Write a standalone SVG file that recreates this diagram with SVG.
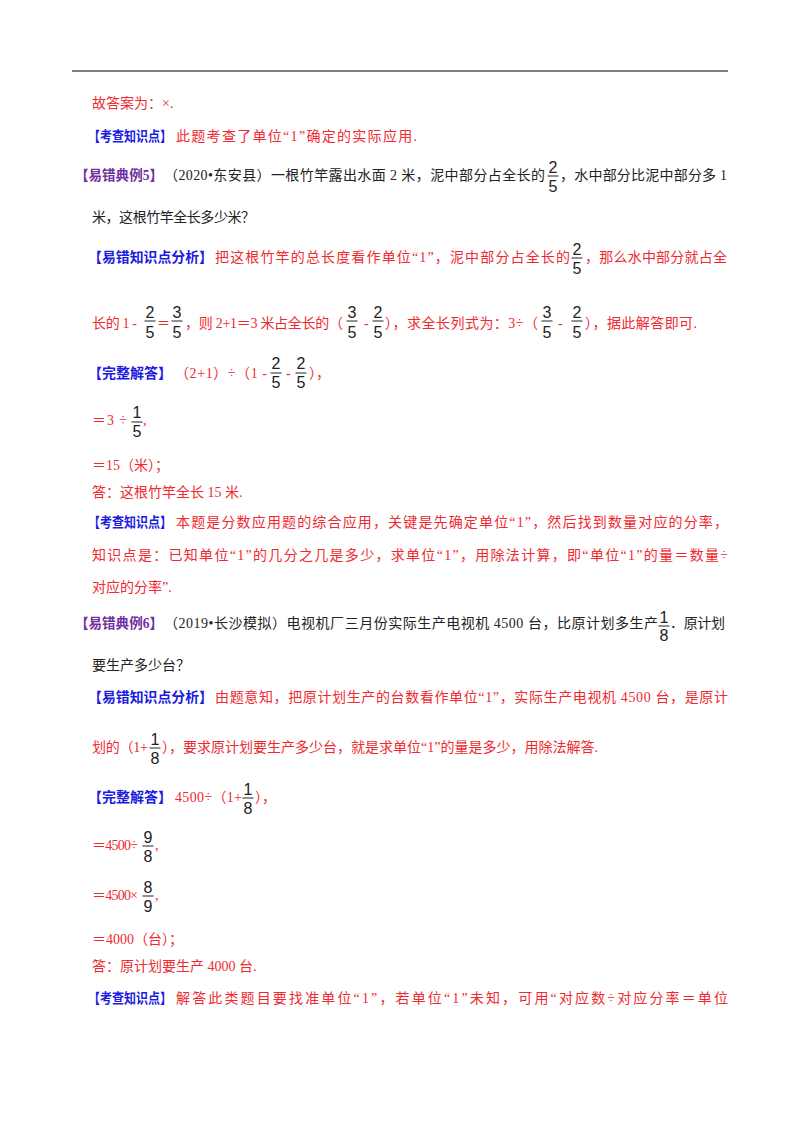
<svg xmlns="http://www.w3.org/2000/svg" width="800" height="1132" viewBox="0 0 800 1132">
<style>
text{font-family:"Liberation Serif","Noto Sans CJK SC",serif;font-size:14px}
.r{fill:#ee2a30}.k{fill:#222}.b{fill:#1c1ce0;font-weight:bold}.p{fill:#7030a0;font-weight:bold}
.f{font-family:"Liberation Sans",Arial,sans-serif;font-size:16px;text-anchor:middle;fill:#222}
.fr line{stroke:#222;stroke-width:1.1}
</style>
<defs>
<line id="bar" x1="-5.5" y1="0" x2="5.5" y2="0"/>
</defs>
<rect width="800" height="1132" fill="#fff"/>
<line x1="72" y1="71" x2="728" y2="71" stroke="#000" stroke-width="1.2"/>

<text x="92" y="108" class="r">故答案为：×.</text>
<text x="88" y="141" class="b" textLength="84" lengthAdjust="spacingAndGlyphs">【考查知识点】</text>
<text x="176" y="141" class="r" textLength="241" lengthAdjust="spacing">此题考查了单位“1”确定的实际应用.</text>

<!-- 例5 -->
<text x="75" y="180" class="p" textLength="88" lengthAdjust="spacingAndGlyphs">【易错典例5】</text>
<text x="164" y="180" class="k" textLength="381" lengthAdjust="spacing">（2020•东安县）一根竹竿露出水面 2 米，泥中部分占全长的</text>
<g class="fr"><text x="553" y="173" class="f">2</text><use href="#bar" x="553" y="176" stroke="#222"/><text x="553" y="192" class="f">5</text></g>
<text x="560" y="180" class="k" textLength="167" lengthAdjust="spacing">，水中部分比泥中部分多 1</text>
<text x="92" y="222" class="k" textLength="163" lengthAdjust="spacing">米，这根竹竿全长多少米？</text>

<text x="88" y="262" class="b" textLength="125" lengthAdjust="spacingAndGlyphs">【易错知识点分析】</text>
<text x="215" y="262" class="r" textLength="355" lengthAdjust="spacing">把这根竹竿的总长度看作单位“1”，泥中部分占全长的</text>
<g><text x="577" y="255" class="f">2</text><use href="#bar" x="577" y="258" stroke="#222"/><text x="577" y="274" class="f">5</text></g>
<text x="585" y="262" class="r" textLength="142" lengthAdjust="spacing">，那么水中部分就占全</text>

<text x="92" y="328" class="r" textLength="45" lengthAdjust="spacing">长的 1 -</text>
<g stroke="#222"><use href="#bar" x="150" y="321"/><use href="#bar" x="177" y="321"/><use href="#bar" x="352" y="321"/><use href="#bar" x="378" y="321"/><use href="#bar" x="547" y="321"/><use href="#bar" x="577" y="321"/></g>
<text x="150" y="318" class="f">2</text><text x="150" y="338" class="f">5</text>
<text x="157" y="328" class="r" textLength="13" lengthAdjust="spacingAndGlyphs">＝</text>
<text x="177" y="318" class="f">3</text><text x="177" y="338" class="f">5</text>
<text x="185" y="328" class="r" textLength="158" lengthAdjust="spacing">，则 2+1＝3 米占全长的（</text>
<text x="352" y="318" class="f">3</text><text x="352" y="338" class="f">5</text>
<text x="364" y="328" class="r">-</text>
<text x="378" y="318" class="f">2</text><text x="378" y="338" class="f">5</text>
<text x="385" y="328" class="r" textLength="153" lengthAdjust="spacing">），求全长列式为：3÷（</text>
<text x="547" y="318" class="f">3</text><text x="547" y="338" class="f">5</text>
<text x="558" y="328" class="r">-</text>
<text x="577" y="318" class="f">2</text><text x="577" y="338" class="f">5</text>
<text x="585" y="328" class="r" textLength="112" lengthAdjust="spacing">），据此解答即可.</text>

<text x="88" y="378" class="b" textLength="84" lengthAdjust="spacingAndGlyphs">【完整解答】</text>
<text x="175" y="378" class="r" textLength="92" lengthAdjust="spacing">（2+1）÷（1 -</text>
<g stroke="#222"><use href="#bar" x="276" y="373"/><use href="#bar" x="301" y="373"/><use href="#bar" x="137" y="422"/></g>
<text x="276" y="369" class="f">2</text><text x="276" y="388" class="f">5</text>
<text x="286" y="378" class="r">-</text>
<text x="301" y="369" class="f">2</text><text x="301" y="388" class="f">5</text>
<text x="309" y="378" class="r">），</text>

<text x="92" y="425" class="r" textLength="35" lengthAdjust="spacing">＝3 ÷</text>
<text x="137" y="418" class="f">1</text><text x="137" y="437" class="f">5</text>
<text x="143" y="425" class="r">,</text>
<text x="92" y="470" class="r">＝15（米）；</text>
<text x="92" y="497" class="r">答：这根竹竿全长 15 米.</text>
<text x="88" y="527" class="b" textLength="84" lengthAdjust="spacingAndGlyphs">【考查知识点】</text>
<text x="176" y="527" class="r" textLength="552" lengthAdjust="spacing">本题是分数应用题的综合应用，关键是先确定单位“1”，然后找到数量对应的分率，</text>
<text x="92" y="560" class="r" textLength="636" lengthAdjust="spacing">知识点是：已知单位“1”的几分之几是多少，求单位“1”，用除法计算，即“单位“1”的量＝数量÷</text>
<text x="92" y="592" class="r">对应的分率”.</text>

<!-- 例6 -->
<text x="75" y="628" class="p" textLength="88" lengthAdjust="spacingAndGlyphs">【易错典例6】</text>
<text x="164" y="628" class="k" textLength="494" lengthAdjust="spacing">（2019•长沙模拟）电视机厂三月份实际生产电视机 4500 台，比原计划多生产</text>
<text x="664" y="623" class="f" font-size="17">1</text><use href="#bar" x="664" y="626" stroke="#222"/><text x="664" y="641" class="f" font-size="17">8</text>
<text x="670" y="628" class="k" textLength="55" lengthAdjust="spacing">．原计划</text>
<text x="92" y="670" class="k">要生产多少台？</text>

<text x="88" y="702" class="b" textLength="125" lengthAdjust="spacingAndGlyphs">【易错知识点分析】</text>
<text x="215" y="702" class="r" textLength="513" lengthAdjust="spacing">由题意知，把原计划生产的台数看作单位“1”，实际生产电视机 4500 台，是原计</text>
<text x="92" y="752" class="r" textLength="56" lengthAdjust="spacing">划的（1+</text>
<text x="155" y="745" class="f">1</text><use href="#bar" x="155" y="748" stroke="#222"/><text x="155" y="764" class="f">8</text>
<text x="162" y="752" class="r">），要求原计划要生产多少台，就是求单位“1”的量是多少，用除法解答.</text>

<text x="88" y="802" class="b" textLength="84" lengthAdjust="spacingAndGlyphs">【完整解答】</text>
<text x="175" y="802" class="r" textLength="67" lengthAdjust="spacing">4500÷（1+</text>
<text x="248" y="795" class="f">1</text><use href="#bar" x="248" y="798" stroke="#222"/><text x="248" y="814" class="f">8</text>
<text x="255" y="802" class="r">），</text>

<text x="92" y="850" class="r" textLength="46" lengthAdjust="spacing">＝4500÷</text>
<text x="148" y="843" class="f">9</text><use href="#bar" x="148" y="846" stroke="#222"/><text x="148" y="862" class="f">8</text>
<text x="155" y="850" class="r">,</text>
<text x="92" y="900" class="r" textLength="46" lengthAdjust="spacing">＝4500×</text>
<text x="148" y="893" class="f">8</text><use href="#bar" x="148" y="896" stroke="#222"/><text x="148" y="912" class="f">9</text>
<text x="155" y="900" class="r">,</text>

<text x="92" y="944" class="r">＝4000（台）；</text>
<text x="92" y="971" class="r">答：原计划要生产 4000 台.</text>
<text x="88" y="1003" class="b" textLength="84" lengthAdjust="spacingAndGlyphs">【考查知识点】</text>
<text x="176" y="1003" class="r" textLength="552" lengthAdjust="spacing">解答此类题目要找准单位“1”，若单位“1”未知，可用“对应数÷对应分率＝单位</text>
</svg>
